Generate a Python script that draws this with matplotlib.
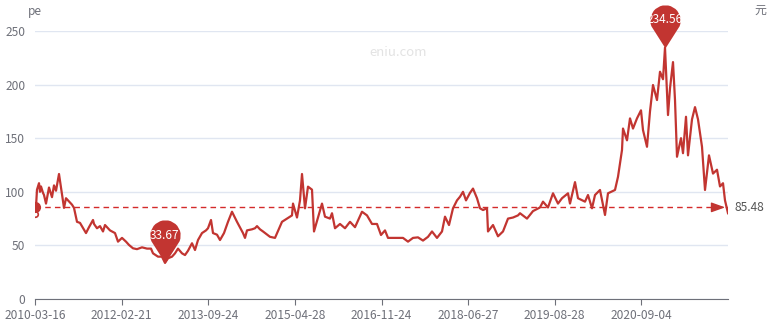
import numpy as np
import matplotlib.pyplot as plt
from matplotlib.path import Path

plt.rcParams['font.family'] = ['Noto Sans CJK SC', 'DejaVu Sans']

# trading-day index and pe value
day = [0, 4, 8, 16, 20, 24, 32, 36, 44, 56, 68, 76, 84, 96, 104, 112, 116, 124, 136, 148,
       156, 168, 180, 204, 216, 232, 236, 248, 260, 272, 280, 300, 320, 332, 348, 364, 376, 392, 408, 428,
       448, 464, 472, 492, 508, 520, 532, 548, 560, 572, 588, 600, 612, 628, 640, 652, 668, 684, 692, 704,
       712, 728, 740, 756, 772, 788, 808, 832, 840, 848, 868, 880, 888, 900, 912, 940, 960, 988, 1008, 1028,
       1032, 1048, 1060, 1068, 1080, 1092, 1108, 1116, 1132, 1148, 1160, 1180, 1188, 1200, 1220, 1240, 1260, 1280, 1308, 1328,
       1348, 1368, 1384, 1400, 1412, 1448, 1472, 1492, 1512, 1532, 1552, 1572, 1588, 1608, 1628, 1640, 1656, 1672, 1688, 1700,
       1712, 1724, 1740, 1752, 1768, 1780, 1792, 1808, 1812, 1832, 1852, 1872, 1892, 1912, 1932, 1940, 1968, 1992, 2020, 2032,
       2052, 2072, 2092, 2108, 2132, 2140, 2160, 2172, 2200, 2212, 2228, 2240, 2260, 2280, 2292, 2320, 2332, 2348, 2352, 2368,
       2380, 2392, 2408, 2424, 2432, 2448, 2460, 2472, 2488, 2500, 2512, 2520, 2532, 2540, 2552, 2560, 2568, 2584, 2592, 2604,
       2612, 2628, 2640, 2652, 2668, 2680, 2696, 2712, 2728, 2740, 2752, 2760, 2772]
pe = [79, 86, 102, 108, 100, 105, 99, 97, 89, 104, 95, 106, 101, 116.6, 104, 92, 85, 94, 91, 88,
      85, 72, 71, 61.5, 67, 73.7, 70, 66, 68, 63, 69, 64, 61.5, 53.5, 57, 53.5, 50.4, 47.3, 46.5, 48.2,
      47, 47, 42.6, 39.5, 39.5, 33.67, 38, 39.5, 42.6, 47, 42.6, 41, 45, 52, 45.7, 55, 61.5, 64, 66, 73.7,
      61.5, 60, 55, 61.5, 72, 81.4, 72, 61.5, 57, 64, 65, 66, 68, 65, 63, 58, 57, 72, 75, 78,
      89, 76, 92, 116.6, 84.6, 104.8, 102, 63, 76, 89, 76.8, 75, 80, 66, 70, 66, 72, 67, 81.4, 78,
      70, 70, 59.7, 64, 57, 57, 57, 53.5, 57, 57.5, 54.5, 58, 63, 57, 63, 76.8, 69, 84.6, 92, 95.4,
      100, 92, 99, 103, 94, 84.6, 83, 84.6, 63, 69, 58.5, 63, 75, 76, 78, 80, 75, 82, 85.4, 90.8,
      85.4, 98.6, 89, 94, 98.6, 89, 109, 94, 90.8, 97, 84.6, 97, 101.7, 78.4, 98.6, 101.7, 114, 139, 159, 148,
      168.5, 159, 168.5, 176, 157.6, 142, 175, 199.6, 185.6, 212, 205, 234.56, 171.6, 196.5, 221, 185.6, 132.7, 150, 136, 170,
      134, 167.6, 179, 167.6, 142, 101.7, 134, 117, 120.6, 105, 108, 92, 80]

tick_labels = ['2010-03-16', '2012-02-21', '2013-09-24', '2015-04-28',
               '2016-11-24', '2018-06-27', '2019-08-28', '2020-09-04']
pe_mean = 85.48
red = '#c23531'
grey = '#6e7079'


def pin_path(c=28.0, r=15.0):
    a = np.degrees(np.arccos(r / c))
    arc = Path.arc(-90 + a, 270 - a)
    verts = arc.vertices * r + np.array([0, c])
    verts = np.vstack([[0, 0], verts, [0, 0]])
    return Path(verts)


fig = plt.figure(figsize=(7.72, 3.25), dpi=100)
ax = fig.add_axes([35 / 772, 1 - 299 / 325, 693 / 772, 268 / 325])

ax.plot(day, pe, color=red, lw=1.6, zorder=3)
ax.plot(day[0], pe[0], 'o', ms=4, mfc='white', mec=red, mew=1.2, zorder=4)

# average line
ax.axhline(pe_mean, color='#d42a2a', ls=(0, (4, 3)), lw=1, zorder=2)
ax.plot(day[0], pe_mean, 'o', ms=7, color=red, zorder=4)
ax.annotate('', xy=(day[-1], pe_mean), xytext=(day[-1] - 40, pe_mean),
            arrowprops=dict(arrowstyle='-|>,head_length=0.7,head_width=0.25', color=red, lw=1,
                            mutation_scale=12), zorder=4)
ax.annotate(f'{pe_mean:.2f}', xy=(day[-1], pe_mean), xytext=(5, 0), textcoords='offset points',
            ha='left', va='center', fontsize=8.6, color='#555555')

# max / min pins
pin = pin_path()
i_max = int(np.argmax(pe))
i_min = int(np.argmin(pe))
for i in (i_max, i_min):
    ax.plot(day[i], pe[i], marker=pin, ms=2 * 43 * 0.72, color=red, mew=0, zorder=5, clip_on=False)
    ax.annotate(f'{pe[i]:.2f}', xy=(day[i], pe[i]), xytext=(0, 20), textcoords='offset points',
                ha='center', va='center', fontsize=8.6, color='white', zorder=6)

ax.set_xlim(0, day[-1])
ax.set_ylim(0, 250)
ax.set_yticks([0, 50, 100, 150, 200, 250])
ax.set_xticks([k * day[-1] / 8 for k in range(8)])
ax.set_xticklabels(tick_labels)
ax.yaxis.grid(True, color='#e0e6f1', lw=1)
ax.set_axisbelow(True)
for s in ('top', 'right', 'left'):
    ax.spines[s].set_visible(False)
ax.spines['bottom'].set_color(grey)
ax.tick_params(axis='y', length=0, pad=7, labelsize=8.6, labelcolor=grey)
ax.tick_params(axis='x', length=4, color=grey, pad=3, labelsize=8.6, labelcolor=grey)

fig.text(35 / 772, 1 - 11 / 325, 'pe', ha='center', va='center', fontsize=8.6, color=grey)
fig.text(760 / 772, 1 - 10 / 325, '元', ha='center', va='center', fontsize=8.6, color=grey)
fig.text(398 / 772, 1 - 52 / 325, 'eniu.com', ha='center', va='center', fontsize=9.5, color='#e3e3e3')

fig.savefig('out.png', dpi=100)
